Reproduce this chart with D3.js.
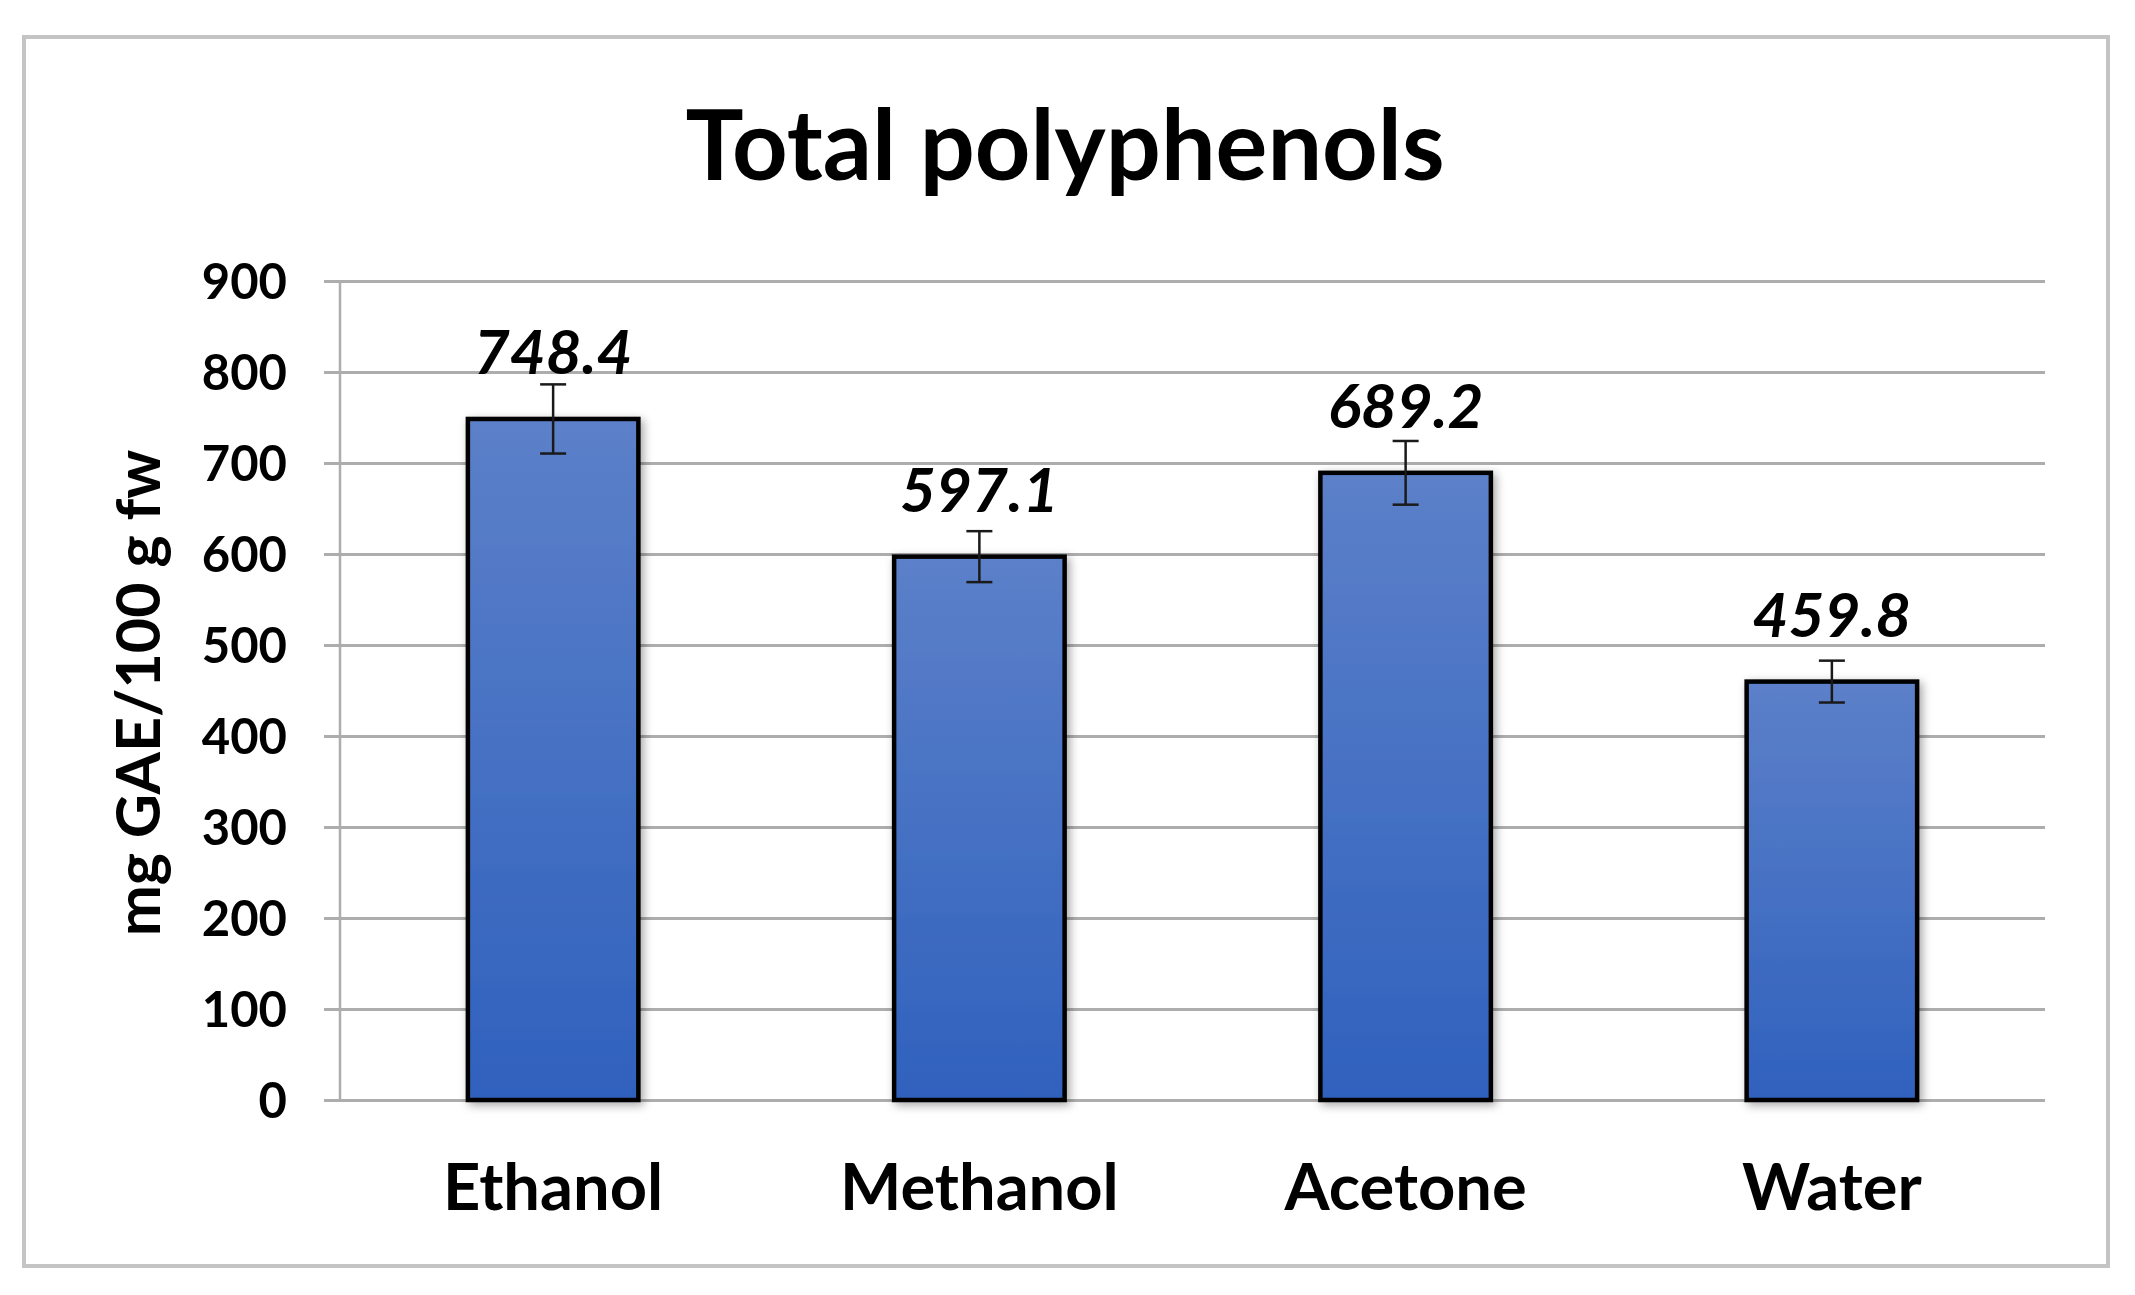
<!DOCTYPE html>
<html>
<head>
<meta charset="utf-8">
<script src="https://cdn.jsdelivr.net/npm/d3@7"></script>
<style>
  html, body { margin: 0; padding: 0; background: #ffffff; }
  svg { display: block; }
  text { font-family: Lato, "Open Sans", "Noto Sans", sans-serif; fill: #000; }
</style>
</head>
<body>
<svg id="chart" width="2135" height="1295"></svg>
<script>
// ---- data ----
const title = "Total polyphenols";
const yAxisTitle = "mg GAE/100 g fw";
const categories = ["Ethanol", "Methanol", "Acetone", "Water"];
const values = [748.4, 597.1, 689.2, 459.8];
const errors = [38, 28, 35, 23];
const valueLabels = ["748.4", "597.1", "689.2", "459.8"];
const yTicks = [0, 100, 200, 300, 400, 500, 600, 700, 800, 900];

// ---- layout ----
const W = 2135, H = 1295;
const plot = { left: 340, right: 2045, top: 281, bottom: 1100 };

const svg = d3.select("#chart");

const defs = svg.append("defs");
const grad = defs.append("linearGradient")
  .attr("id", "barGrad").attr("x1", 0).attr("y1", 0).attr("x2", 0).attr("y2", 1);
grad.append("stop").attr("offset", "0%").attr("stop-color", "#5c80c9");
grad.append("stop").attr("offset", "100%").attr("stop-color", "#2f61bd");

const shadow = defs.append("filter").attr("id", "shadow")
  .attr("x", "-20%").attr("y", "-10%").attr("width", "140%").attr("height", "120%");
shadow.append("feDropShadow").attr("dx", 3).attr("dy", 3)
  .attr("stdDeviation", 5).attr("flood-color", "#000").attr("flood-opacity", 0.35);

// outer border
svg.append("rect")
  .attr("x", 24).attr("y", 37).attr("width", 2084).attr("height", 1229)
  .attr("fill", "#fff").attr("stroke", "#c4c4c4").attr("stroke-width", 4);

const x = d3.scaleBand()
  .domain(categories)
  .range([plot.left, plot.right])
  .paddingInner(0.6).paddingOuter(0.3);

const y = d3.scaleLinear()
  .domain([0, 900])
  .range([plot.bottom, plot.top]);

// gridlines via axis
const grid = svg.append("g")
  .attr("transform", `translate(${plot.left},0)`)
  .call(d3.axisLeft(y).tickValues(yTicks).tickSize(-(plot.right - plot.left)).tickFormat(""));
grid.select(".domain").remove();
grid.selectAll(".tick line")
  .attr("stroke", "#adadad").attr("stroke-width", 3)
  .attr("x1", -16);

// vertical axis line
svg.append("line")
  .attr("x1", plot.left).attr("x2", plot.left)
  .attr("y1", y(900)).attr("y2", y(0))
  .attr("stroke", "#adadad").attr("stroke-width", 2.5);

// y tick labels
const yAxis = svg.append("g")
  .attr("transform", `translate(287,0)`)
  .call(d3.axisLeft(y).tickValues(yTicks).tickSize(0).tickPadding(0).tickFormat(d3.format("d")));
yAxis.select(".domain").remove();
yAxis.selectAll("text")
  .attr("font-size", 49).attr("font-weight", 700)
  .attr("font-family", "Lato, sans-serif").attr("fill", "#000")
  .attr("dy", "0.36em");

// x labels
const xAxis = svg.append("g")
  .attr("transform", `translate(0,1210)`)
  .call(d3.axisBottom(x).tickSize(0).tickPadding(0));
xAxis.select(".domain").remove();
xAxis.selectAll("text")
  .attr("font-size", 65).attr("font-weight", 700)
  .attr("font-family", "Lato, sans-serif").attr("fill", "#000")
  .attr("dy", 0).attr("y", 0);

// bars
const data = categories.map((c, i) => ({ c, v: values[i], e: errors[i], lab: valueLabels[i] }));

svg.append("g").selectAll("rect")
  .data(data).join("rect")
  .attr("x", d => x(d.c)).attr("width", x.bandwidth())
  .attr("y", d => y(d.v)).attr("height", d => y(0) - y(d.v))
  .attr("fill", "url(#barGrad)")
  .attr("stroke", "#000").attr("stroke-width", 4.5)
  .attr("filter", "url(#shadow)");

// error bars
const eb = svg.append("g").attr("stroke", "#1a1a1a").attr("stroke-width", 2.5);
data.forEach(d => {
  const cx = x(d.c) + x.bandwidth() / 2;
  eb.append("line").attr("x1", cx).attr("x2", cx).attr("y1", y(d.v + d.e)).attr("y2", y(d.v - d.e));
  eb.append("line").attr("x1", cx - 13).attr("x2", cx + 13).attr("y1", y(d.v + d.e)).attr("y2", y(d.v + d.e));
  eb.append("line").attr("x1", cx - 13).attr("x2", cx + 13).attr("y1", y(d.v - d.e)).attr("y2", y(d.v - d.e));
});

// value labels
svg.append("g").selectAll("text")
  .data(data).join("text")
  .attr("x", d => x(d.c) + x.bandwidth() / 2)
  .attr("y", d => y(d.v) - 45)
  .attr("text-anchor", "middle")
  .attr("font-size", 62).attr("font-weight", 700).attr("font-style", "italic")
  .text(d => d.lab);

// title
svg.append("text")
  .attr("x", 1065).attr("y", 180)
  .attr("text-anchor", "middle")
  .attr("font-size", 97).attr("font-weight", 700)
  .text(title);

// y axis title
svg.append("text")
  .attr("transform", `translate(160,693) rotate(-90)`)
  .attr("text-anchor", "middle")
  .attr("font-size", 61).attr("font-weight", 700)
  .text(yAxisTitle);
</script>
</body>
</html>
